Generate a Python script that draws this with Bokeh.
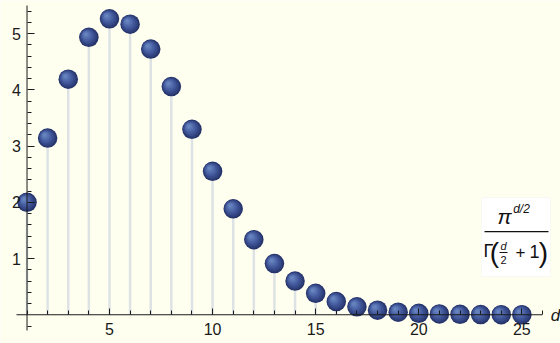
from bokeh.plotting import figure
from bokeh.models import FixedTicker, Label, BoxAnnotation
from bokeh.embed import file_html
from bokeh.resources import INLINE

# ---- data ----
dims = list(range(1, 26))
volumes = [2.0, 3.1416, 4.1888, 4.9348, 5.2638, 5.1677, 4.7248, 4.0587,
           3.2985, 2.5502, 1.8841, 1.3353, 0.9106, 0.5993, 0.3814, 0.2353,
           0.1410, 0.0821, 0.0466, 0.0258, 0.0139, 0.0074, 0.0038, 0.0019,
           0.0010]
x_major = [5, 10, 15, 20, 25]
x_minor = list(range(1, 27))
y_major = [1, 2, 3, 4, 5]
y_minor = [-0.2, 0.2, 0.4, 0.6, 0.8, 1.2, 1.4, 1.6, 1.8, 2.2, 2.4, 2.6, 2.8,
           3.2, 3.4, 3.6, 3.8, 4.2, 4.4, 4.6, 4.8, 5.2, 5.4]

# ---- layout ----
W, H = 560, 343
# pixel box covered by the axes in the picture
AL, AR, AT, AB = 16, 542, 5, 330
AX0, AX1 = 0.49, 26.0
AY0, AY1 = -0.28, 5.5
BG = "#fffff0"
FONT = "Liberation Sans"
INK = "#1a1a1a"

sx = (AR - AL) / (AX1 - AX0)
sy = (AB - AT) / (AY1 - AY0)
X0 = AX0 - AL / sx
X1 = AX1 + (W - AR) / sx
Y0 = AY0 - (H - AB) / sy
Y1 = AY1 + AT / sy


def px_x(px):
    return X0 + px / sx


def px_y(py):
    return Y0 + (H - py) / sy


p = figure(width=W, height=H, x_range=(X0, X1), y_range=(Y0, Y1),
           output_backend="svg", toolbar_location=None,
           min_border_left=0, min_border_right=0, min_border_top=0,
           min_border_bottom=0, background_fill_color=BG,
           border_fill_color=BG, outline_line_color=None)
p.grid.visible = False

xa = p.xaxis[0]
xa.fixed_location = 0
xa.ticker = FixedTicker(ticks=x_major, minor_ticks=x_minor)
xa.major_tick_in = 6
xa.major_tick_out = 0
xa.minor_tick_in = 4
xa.minor_tick_out = 0
xa.major_label_standoff = 8
ya = p.yaxis[0]
ya.fixed_location = 1
ya.ticker = FixedTicker(ticks=y_major, minor_ticks=y_minor)
ya.major_tick_in = 7
ya.major_tick_out = 0
ya.minor_tick_in = 4
ya.minor_tick_out = 0
ya.major_label_standoff = 6
for ax in (xa, ya):
    ax.axis_line_color = None
    ax.major_tick_line_color = INK
    ax.minor_tick_line_color = INK
    ax.major_label_text_font = FONT
    ax.major_label_text_font_size = "16px"
    ax.major_label_text_color = INK

# stems
p.segment(x0=dims, y0=[0] * len(dims), x1=dims, y1=volumes,
          line_color="#dde3e5", line_width=2.5)

# shaded spheres: stacked circles offset toward the upper-left highlight
layers = [
    (19.5, "#26346a", 0.0, 0.0),
    (17.5, "#2e3f7a", -0.4, 0.4),
    (15.5, "#374a89", -0.9, 0.9),
    (13.0, "#405698", -1.4, 1.4),
    (10.5, "#4a62a4", -1.9, 1.9),
    (8.0, "#546eae", -2.3, 2.4),
    (5.5, "#5e7ab7", -2.7, 2.8),
    (3.0, "#6885bf", -3.0, 3.1),
]
for size, color, dxp, dyp in layers:
    p.scatter(x=[d + dxp / sx for d in dims],
              y=[v + dyp / sy for v in volumes],
              size=size, fill_color=color, line_color=None)

# axis lines drawn above the spheres
p.segment(x0=[AX0, 1], y0=[0, AY0], x1=[AX1, 1], y1=[0, AY1],
          line_color=INK, line_width=1)

# axis name
p.add_layout(Label(x=px_x(555), y=px_y(315), text="d", text_font=FONT,
                   text_font_style="italic", text_font_size="17px",
                   text_color=INK, text_align="center",
                   text_baseline="middle"))

# formula box
p.add_layout(BoxAnnotation(left=px_x(481), right=px_x(550), top=px_y(197),
                           bottom=px_y(276), fill_color="white",
                           fill_alpha=1.0, line_color="#ececec",
                           line_width=1))
p.add_layout(BoxAnnotation(left=px_x(484), right=px_x(548), top=px_y(230.5),
                           bottom=px_y(231.8), fill_color="#111111",
                           fill_alpha=1.0, line_color=None))
p.add_layout(BoxAnnotation(left=px_x(499), right=px_x(507), top=px_y(251.6),
                           bottom=px_y(252.4), fill_color="#111111",
                           fill_alpha=1.0, line_color=None))


def txt(px, py, s, size, style="normal"):
    p.add_layout(Label(x=px_x(px), y=px_y(py), text=s, text_font=FONT,
                       text_font_size=size, text_font_style=style,
                       text_color="#111111", text_align="center",
                       text_baseline="middle"))


txt(504, 216, "π", "21px", "italic")
txt(521, 208, "d/2", "12px", "italic")
txt(488, 250, "Γ", "18px")
txt(494, 252, "(", "28px")
txt(503, 245, "d", "11px", "italic")
txt(503, 259, "2", "11px")
txt(520, 251, "+", "17px")
txt(534, 251, "1", "18px")
txt(543, 252, ")", "28px")

open("out.html", "w").write(file_html(p, INLINE))
